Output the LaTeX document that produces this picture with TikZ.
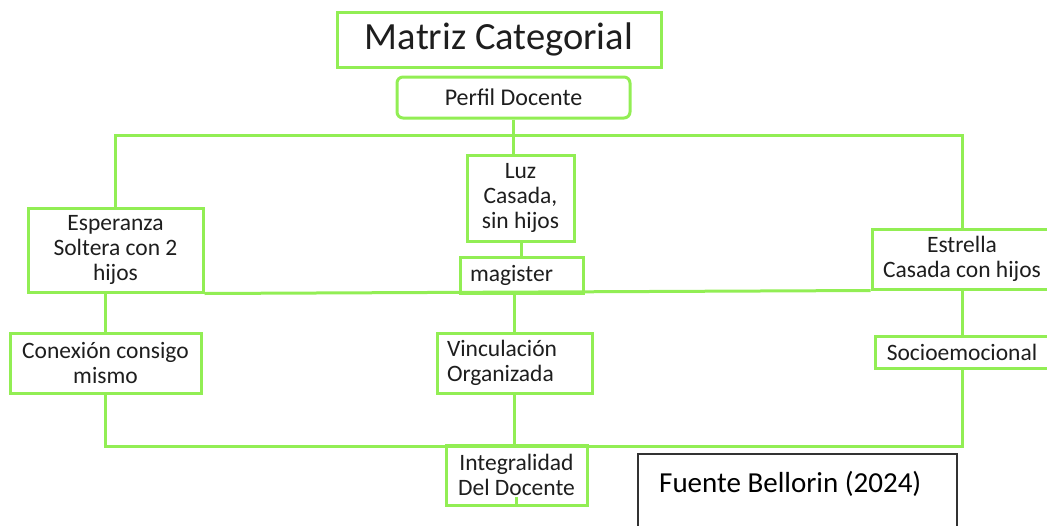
\documentclass[tikz,border=0pt]{standalone}
\usepackage{fontspec}
\setmainfont{Carlito}
\definecolor{lime}{RGB}{146,238,84}
\definecolor{ink}{RGB}{30,30,30}
\definecolor{frame}{RGB}{50,50,50}
\begin{document}
\begin{tikzpicture}[x=1pt,y=-1pt,
  gbox/.style={draw=lime, line width=3pt, fill=white, inner sep=0pt, align=center, text=ink,
     font=\fontsize{23.5}{25}\selectfont},
  link/.style={draw=lime, line width=3pt}]
\useasboundingbox (0,0) rectangle (1047,525);
% nodes
\node (title) [gbox, minimum width=324, minimum height=55, font=\fontsize{38.5}{40}\selectfont] at (499,39.5) {Matriz Categorial};
\node (perfil) [gbox, rounded corners=6pt, minimum width=233, minimum height=41, font=\fontsize{24}{25}\selectfont] at (513.5,97.5) {Perfil Docente};
\node (luz) [gbox, minimum width=107, minimum height=86] at (520.5,198) {Luz\\Casada,\\sin hijos};
\node (esp) [gbox, minimum width=175, minimum height=84] at (115.5,250) {Esperanza\\Soltera con 2\\hijos};
\node (est) [gbox, minimum width=180, minimum height=60] at (962,259) {Estrella\\Casada con hijos};
\node (mag) [gbox, minimum height=36, inner xsep=10pt, text width=103pt, align=left] at (521.5,275) {magister};
\node (con) [gbox, minimum width=191, minimum height=60] at (105.5,363) {Conexión consigo\\mismo};
\node (vin) [gbox, minimum height=60, inner xsep=10pt, text width=135pt, align=left] at (514.5,363) {Vinculación\\Organizada};
\node (soc) [gbox, minimum width=174, minimum height=32] at (962,352) {Socioemocional};
\node (int) [gbox, minimum width=141, minimum height=60] at (516.5,475) {Integralidad\\Del Docente};
\coordinate (tick) at (516.5,497);
\node (fbox) [draw=frame, line width=1.5pt, minimum width=319, minimum height=82, anchor=north west, inner sep=0pt] at (637,453) {};
\node (ftxt) [anchor=base west, inner sep=0pt, text=black, font=\fontsize{29}{30}\selectfont] at (659,492) {Fuente Bellorin (2024)};
% connectors
\coordinate (topbar) at (0,135);
\coordinate (botbar) at (0,446);
\draw[link] (perfil.south) -- (perfil.south |- luz.north);
\draw[link] (esp.north) -- (esp.north |- topbar) -- (est.north |- topbar) -- (est.north);
\draw[link] (luz.south -| mag.north) -- (mag.north);
\draw[link] (esp.south east) -- (est.south west);
\draw[link] (con.north |- esp.south) -- (con.north);
\draw[link] (mag.south -| vin.north) -- (vin.north);
\draw[link] (est.south) -- (soc.north);
\draw[link] (con.south) -- (con.south |- botbar) -- (soc.south |- botbar) -- (soc.south);
\draw[link] (vin.south) -- (vin.south |- botbar);
\draw[link] (tick) -- (int.south -| tick);
\end{tikzpicture}
\end{document}
